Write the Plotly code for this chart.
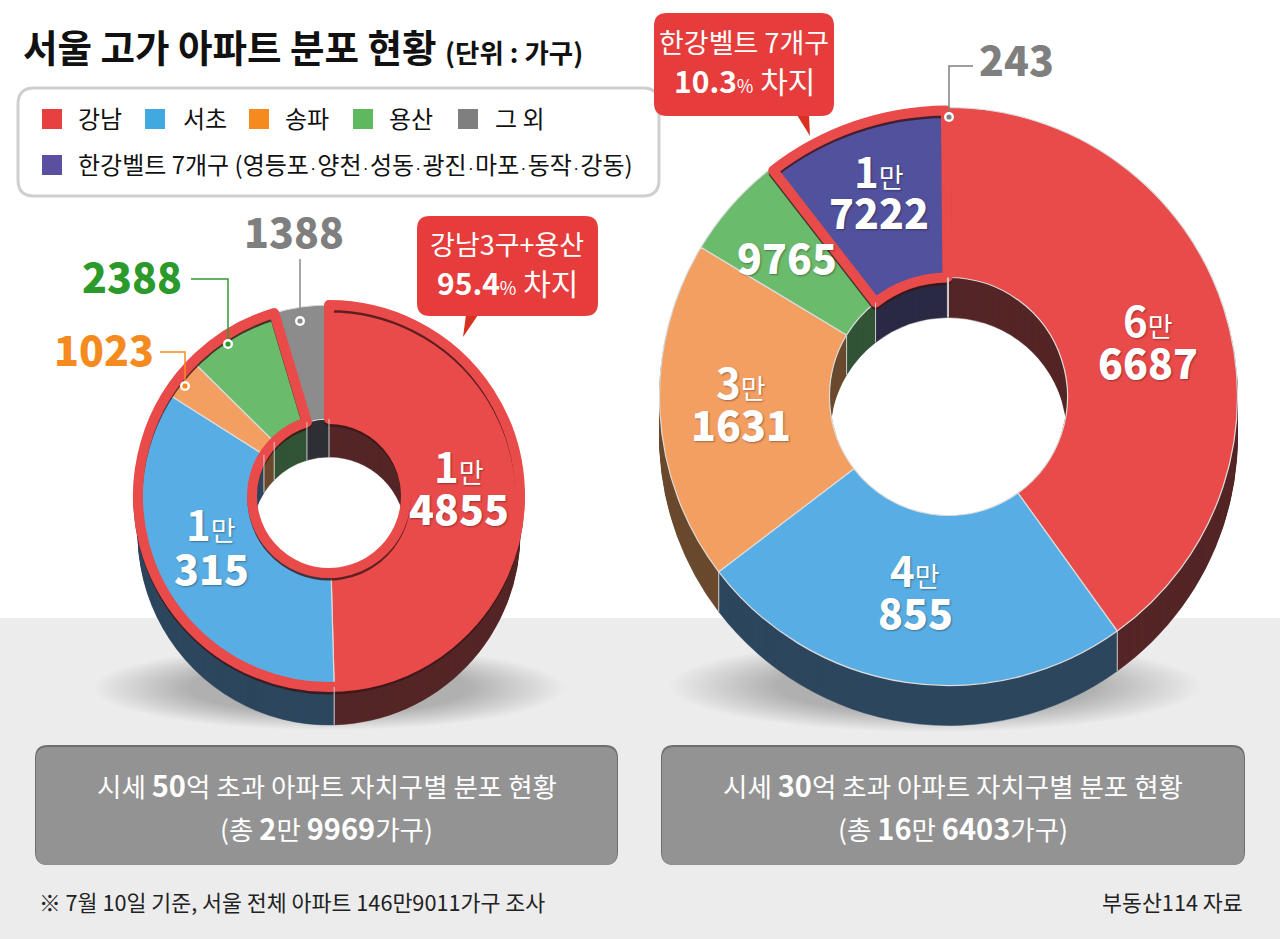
#!/usr/bin/env python
# coding: utf-8

import numpy as np
import plotly.graph_objects as go

W, H = 1280, 939
FONT = "Noto Sans CJK KR"

# Data
left_names = ["강남", "서초", "송파", "용산", "그 외"]
left_values = [14855, 10315, 1023, 2388, 1388]
right_names = ["강남", "서초", "송파", "용산", "한강벨트 7개구", "그 외"]
right_values = [66687, 40855, 31631, 9765, 17222, 243]

legend_row1 = ["강남", "서초", "송파", "용산", "그 외"]
legend_row2 = "한강벨트 7개구 (영등포·양천·성동·광진·마포·동작·강동)"

left_total = "2만 9969"
right_total = "16만 6403"
left_share = "95.4"
right_share = "10.3"

# Colours by name
FACE = {"강남": "#e94b4a", "서초": "#58aee4", "송파": "#f49f62", "용산": "#6bbb6c",
        "그 외": "#8c8c8c", "한강벨트 7개구": "#52519d"}
WALL = {"강남": "#552627", "서초": "#2d475e", "송파": "#6b4a2f", "용산": "#335436",
        "그 외": "#2f3036", "한강벨트 7개구": "#2a2a45"}
KEY = {"강남": "#e84040", "서초": "#3fa9e0", "송파": "#f58a1f", "용산": "#5fb85f",
       "그 외": "#7f7f7f", "한강벨트 7개구": "#5a4fa0"}
STROKE = "#e94b4a"
CLEAR = "rgba(0,0,0,0)"

shapes = []
annotations = []


def domain(cx, cy, r):
    return dict(x=[(cx - r) / W, (cx + r) / W], y=[1 - (cy + r) / H, 1 - (cy - r) / H])


def pie(values, cx, cy, r, hole, colors, line_colors, line_width):
    return go.Pie(
        values=values, domain=domain(cx, cy, r), hole=hole / r, sort=False, direction="clockwise",
        rotation=0, textinfo="none", hoverinfo="skip", showlegend=False,
        marker=dict(colors=colors, line=dict(color=line_colors, width=line_width)),
    )


def round_rect(x0, y0, x1, y1, r):
    return (f"M{x0+r},{y0} L{x1-r},{y0} Q{x1},{y0} {x1},{y0+r} L{x1},{y1-r} Q{x1},{y1} {x1-r},{y1} "
            f"L{x0+r},{y1} Q{x0},{y1} {x0},{y1-r} L{x0},{y0+r} Q{x0},{y0} {x0+r},{y0} Z")


def text(x, y, s, size, color="#111111", anchor="center", shadow=None, weight=None):
    font = dict(family=FONT, size=size, color=color)
    if shadow:
        font["shadow"] = shadow
    if weight:
        font["weight"] = weight
    # the line box sits a little low for this font, so lift it
    annotations.append(dict(x=x, y=y - 0.09 * size, text=s, showarrow=False, xref="x", yref="y", xanchor=anchor,
                            yanchor="middle", font=font, borderpad=0))


def big_label(x, y_top, y_num, value, color="white"):
    sh = "1px 1px 2px rgba(0,0,0,0.35)"
    man, rest = value // 10000, value % 10000
    if man:
        text(x, y_top, f"<b>{man}</b><span style='font-size:27px'>만</span>", 42, color, shadow=sh)
    text(x, y_num, str(rest), 41, color, shadow=sh, weight=900)


def wall_lines(values, cx, cy, r, hole, depth):
    # light seams on the side walls, at each slice boundary
    angles = np.cumsum(values) / np.sum(values) * 2 * np.pi
    for a in angles:
        rad = r if np.cos(a) < 0 else hole
        px, py = cx + rad * np.sin(a), cy - rad * np.cos(a)
        shapes.append(dict(type="line", x0=px, x1=px, y0=py, y1=py + depth, xref="x", yref="y",
                           line=dict(color="#cfcfcf", width=1), layer="above"))


def donut(fig, names, values, cx, cy, r, hole, depth, outline_values, outline_on, outline_r):
    wall_cols = [WALL[n] for n in names]
    face_cols = [FACE[n] for n in names]
    for d in range(depth, 0, -1):
        fig.add_trace(pie(values, cx, cy + d, r, hole, wall_cols, wall_cols, 0.5))
    fig.add_trace(pie(values, cx, cy, r, hole, face_cols, "#dcdcdc", 1.2))
    dark = ["rgba(60,20,22,0.8)" if on else CLEAR for on in outline_on]
    red = [STROKE if on else CLEAR for on in outline_on]
    clear = [CLEAR] * len(outline_on)
    fig.add_trace(pie(outline_values, cx, cy + 3, outline_r, hole, clear, dark, 9))
    fig.add_trace(pie(outline_values, cx, cy, outline_r, hole, clear, red, 10))
    wall_lines(values, cx, cy, r, hole, depth)


def floor_shadow(cx, cy, rx, ry):
    # soft shadow under a donut, built from stacked faint ellipses
    for t in np.linspace(1, 0.6, 30):
        shapes.append(dict(type="circle", x0=cx - rx * t, x1=cx + rx * t, y0=cy - ry * t, y1=cy + ry * t,
                           xref="x", yref="y", layer="below", fillcolor="rgba(50,50,50,0.012)",
                           line=dict(width=0)))


def leader(points, color, dot):
    path = "M" + " L".join(f"{x},{y}" for x, y in points)
    shapes.append(dict(type="path", path=path, xref="x", yref="y", layer="above",
                       line=dict(color=color, width=1.5)))
    for rad, col in [(5, "white"), (2.6, color)]:
        shapes.append(dict(type="circle", x0=dot[0] - rad, x1=dot[0] + rad, y0=dot[1] - rad, y1=dot[1] + rad,
                           xref="x", yref="y", layer="above", fillcolor=col, line=dict(width=0)))


def callout(x0, y0, x1, y1, tail):
    shapes.append(dict(type="path", path=f"M{tail[0]},{y1-1} L{tail[1]},{y1-1} L{tail[2]},{tail[3]} Z",
                       xref="x", yref="y", layer="above", fillcolor="#d9301f", line=dict(width=0)))
    shapes.append(dict(type="path", path=round_rect(x0, y0, x1, y1, 13), xref="x", yref="y", layer="above",
                       fillcolor="#e63c3c", line=dict(width=0)))


fig = go.Figure()
# invisible trace that gives the page a pixel coordinate system
fig.add_trace(go.Scatter(x=[0, W], y=[0, H], mode="markers", marker=dict(opacity=0), hoverinfo="skip",
                         showlegend=False))

# floor
shapes.append(dict(type="rect", x0=0, x1=W, y0=618, y1=H, xref="x", yref="y", layer="below",
                   fillcolor="#ececec", line=dict(width=0)))
floor_shadow(329, 688, 235, 42)
floor_shadow(935, 686, 265, 46)

# left donut: outline runs round everything but the last slice
donut(fig, left_names, left_values, 329, 496, 191, 77, 38,
      [sum(left_values[:4]), left_values[4]], [True, False], 191)
# right donut: outline only round the Han river belt
donut(fig, right_names, right_values, 948.5, 396.5, 289, 119, 40,
      right_values, [n == "한강벨트 7개구" for n in right_names], 286)

# title
text(22, 49, "<b>서울 고가 아파트 분포 현황</b>", 37.5, anchor="left")
text(444, 54, "<b>(단위 : 가구)</b>", 26.5, anchor="left")

# legend box
shapes.append(dict(type="path", path=round_rect(18, 88, 659, 196, 16), xref="x", yref="y", layer="above",
                   fillcolor="white", line=dict(color="#cfcfcf", width=3)))
key_x = [42, 145, 249, 353, 458]
label_x = [77, 182, 284, 388, 494]
for name, kx, lx in zip(legend_row1, key_x, label_x):
    shapes.append(dict(type="rect", x0=kx, x1=kx + 20, y0=109, y1=129, xref="x", yref="y", layer="above",
                       fillcolor=KEY[name], line=dict(width=0)))
    text(lx, 120, name, 24, anchor="left")
shapes.append(dict(type="rect", x0=42, x1=62, y0=155, y1=175, xref="x", yref="y", layer="above",
                   fillcolor=KEY["한강벨트 7개구"], line=dict(width=0)))
text(77, 166, legend_row2.replace("·", "<span style='font-size:15px'>·</span>"), 24, anchor="left")

# callouts
share_fmt = "<b>{}</b><span style='font-size:18px'>%</span> 차지"
callout(417, 216, 598, 316, (466, 478, 463, 337))
text(507, 246, "강남3구+용산", 27, "white")
text(507, 285, share_fmt.format(left_share), 30, "white")
callout(654, 13, 834, 116, (797, 809, 810, 136))
text(744, 44, "한강벨트 7개구", 27, "white")
text(744, 83, share_fmt.format(right_share), 30, "white")

# leader lines and outside values
leader([(300, 259), (300, 320)], "#8a8a8a", (300, 321))
leader([(191, 279), (228, 279), (228, 344)], "#2f9a2f", (228, 344))
leader([(160, 352), (185, 352), (185, 385)], "#f58a1f", (185, 386))
leader([(973, 66), (949, 66), (949, 117)], "#7f7f7f", (949, 117))
text(294, 234, str(left_values[4]), 41, "#7f7f7f", weight=900)
text(132, 279, str(left_values[3]), 41, "#2b9a2b", weight=900)
text(104, 352, str(left_values[2]), 41, "#f58a1f", weight=900)
text(1016, 62, str(right_values[5]), 41, "#7f7f7f", weight=900)

# values on the slices
big_label(459, 468, 511, left_values[0])
big_label(211, 526, 571, left_values[1])
big_label(1148, 322, 365, right_values[0])
big_label(915, 572, 615, right_values[1])
big_label(741, 384, 427, right_values[2])
big_label(787, 260, 260, right_values[3])
big_label(879, 173, 215, right_values[4])

# caption boxes
num = "<span style='font-size:29px'><b>{}</b></span>"
for x0, x1, rich, total in [(35, 618, "50", left_total), (661, 1245, "30", right_total)]:
    shapes.append(dict(type="path", path=round_rect(x0, 745, x1, 865, 13), xref="x", yref="y", layer="above",
                       fillcolor="#6e6e6e", line=dict(width=0)))
    shapes.append(dict(type="path", path=round_rect(x0 + 1, 747, x1 - 1, 865, 12), xref="x", yref="y", layer="above",
                       fillcolor="#939393", line=dict(width=0)))
    mid = (x0 + x1) / 2
    text(mid, 786, f"시세 {num.format(rich)}억 초과 아파트 자치구별 분포 현황", 26.5, "white")
    man, rest = total.split("만 ")
    text(mid, 829, f"(총 {num.format(man)}만 {num.format(rest)}가구)", 26.5, "white")

# footer
text(38, 903, "※ 7월 10일 기준, 서울 전체 아파트 146만9011가구 조사", 21.7, "#222222", anchor="left")
text(1244, 903, "부동산114 자료", 21.7, "#222222", anchor="right")

fig.update_layout(
    width=W, height=H, margin=dict(l=0, r=0, t=0, b=0, pad=0), paper_bgcolor="white", plot_bgcolor="rgba(0,0,0,0)",
    xaxis=dict(range=[0, W], visible=False, fixedrange=True),
    yaxis=dict(range=[H, 0], visible=False, fixedrange=True),
    shapes=shapes, annotations=annotations, showlegend=False,
)

fig.write_html("out.html", config={"displayModeBar": False},
               post_script="document.body.style.margin='0';document.body.style.overflow='hidden';")
